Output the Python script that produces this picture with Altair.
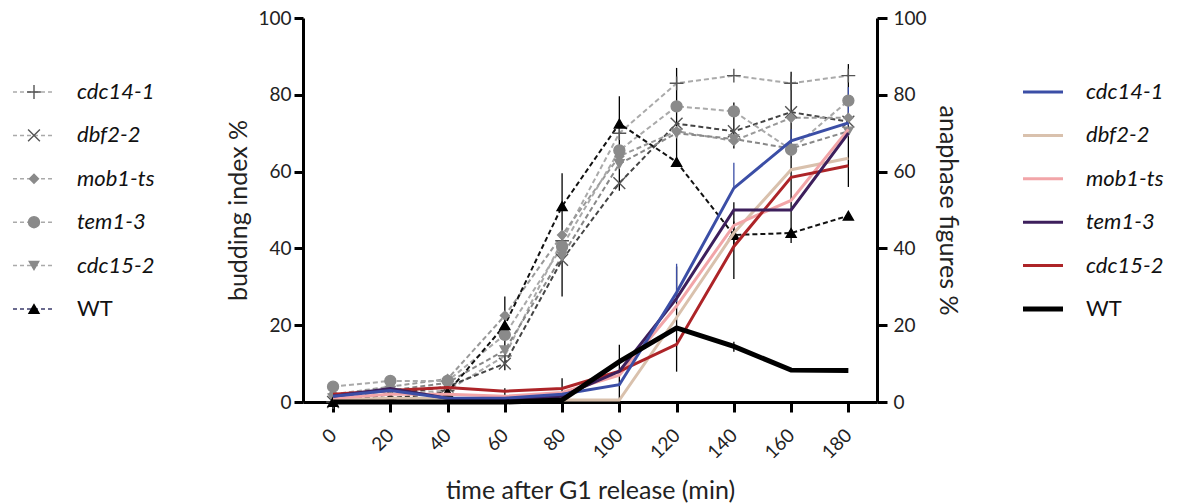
import altair as alt
import pandas as pd

# ---------------- data ----------------
times = [0, 20, 40, 60, 80, 100, 120, 140, 160, 180]
strains = ["cdc14-1", "dbf2-2", "mob1-ts", "tem1-3", "cdc15-2", "WT"]

# budding index % (dashed, left axis)
bud_cdc14 = [0, 2, 3, 12, 42, 70, 83, 85, 83, 85]
bud_dbf2 = [0, 2, 4, 10, 37, 57, 72.5, 70.5, 75.5, 73]
bud_mob1 = [2, 4, 6, 22.5, 43.5, 64, 70.5, 68, 74, 74]
bud_tem1 = [4, 5.5, 5.5, 17.5, 40.5, 65.5, 77, 75.7, 65.7, 78.5]
bud_cdc15 = [1, 3, 5, 13.5, 38, 62, 70, 68.5, 66, 70.5]
bud_wt = [0, 1, 2.5, 20, 51, 72.5, 62.5, 43.5, 44, 48.5]

# anaphase figures % (solid, right axis)
ana_cdc14 = [1.5, 3, 1, 1, 2, 4.5, 28.5, 55.7, 68, 72.7]
ana_dbf2 = [0.5, 1, 1, 0.5, 0.5, 0.5, 22, 44, 60.5, 63.5]
ana_mob1 = [1, 2, 2, 1.5, 2.5, 7, 25, 46, 52.5, 71]
ana_tem1 = [1.5, 3.5, 1, 0.5, 1.5, 8, 27, 50, 50, 70]
ana_cdc15 = [2, 3, 3.8, 2.8, 3.5, 8, 15, 40.5, 58.5, 61.5]
ana_wt = [0, 0, 0, 0, 0.5, 10.5, 19.3, 14.5, 8.3, 8.2]

# error bars
err_time = [20, 60, 80, 100, 120, 140, 160, 180, 140, 60, 80, 100, 120, 140, 140, 120, 140, 160, 180]
err_lo = [0.5, 8.3, 27.5, 55, 61.3, 66, 41.4, 56, 40.5, 0, 0, 0.5, 7.9, 32, 13.1, 26, 55.7, 65, 72]
err_hi = [5, 27.5, 59.6, 79.6, 87, 78, 86, 88, 47, 3.6, 6.2, 14.9, 35.3, 52, 15.7, 36, 62.3, 71, 82]
err_col = ["#000000"] * 15 + ["#3b4ea6"] * 4

# styles
bud_line_colors = ["#aaaaaa", "#444444", "#999999", "#aaaaaa", "#888888", "#111111"]
legend_dash_colors = ["#aaaaaa", "#aaaaaa", "#aaaaaa", "#aaaaaa", "#aaaaaa", "#3b3b6b"]
marker_shapes = ["M-1,0L1,0M0,-1L0,1", "M-1,-1L1,1M-1,1L1,-1", "diamond", "circle",
                 "triangle-down", "triangle-up"]
marker_fill = ["#555555", "#555555", "#8a8a8a", "#8a8a8a", "#8a8a8a", "#000000"]
marker_stroke = ["#555555", "#555555", "#8a8a8a", "#8a8a8a", "#8a8a8a", "#000000"]
marker_size = [190, 140, 80, 120, 90, 100]
ana_colors = ["#3b4ea6", "#d9c1ad", "#f2a5a8", "#3d1f5c", "#ad2428", "#000000"]
ana_widths = [3, 3, 3, 3, 3, 5]
ana_draw_order = ["dbf2-2", "mob1-ts", "cdc15-2", "tem1-3", "cdc14-1", "WT"]

bud_vals = [bud_cdc14, bud_dbf2, bud_mob1, bud_tem1, bud_cdc15, bud_wt]
ana_vals = [ana_cdc14, ana_dbf2, ana_mob1, ana_tem1, ana_cdc15, ana_wt]

FONT = "Lato"

# ---------------- tables ----------------
bud_rows = []
for i, s in enumerate(strains):
    for t, v in zip(times, bud_vals[i]):
        bud_rows.append(dict(time=t, value=v, strain=s, lcol=bud_line_colors[i],
                             shape=marker_shapes[i], fill=marker_fill[i],
                             stroke=marker_stroke[i], size=marker_size[i]))
bud_df = pd.DataFrame(bud_rows)

err_df = pd.DataFrame(dict(time=err_time, lo=err_lo, hi=err_hi, ecol=err_col))

leg_df = pd.DataFrame(dict(row=list(range(6)), strain=strains, dcol=legend_dash_colors,
                           shape=marker_shapes, fill=marker_fill, stroke=marker_stroke,
                           size=marker_size, acol=ana_colors, aw=ana_widths))

# ---------------- encodings ----------------
x_axis = alt.Axis(values=times, title="time after G1 release (min)", labelAngle=-45,
                  labelAlign="right", labelBaseline="middle", grid=False,
                  domainWidth=3, domainColor="#000000", tickWidth=3, tickSize=10,
                  tickColor="#000000", labelFontSize=19, labelColor="#222222",
                  labelPadding=20, titleFontSize=25, titleColor="#222222",
                  titlePadding=16, titleFontWeight="normal", labelFont=FONT, titleFont=FONT)
x_scale = alt.Scale(domain=[-10.5, 190], nice=False, zero=False)


def X():
    return alt.X("time:Q", scale=x_scale, axis=x_axis)


y_scale = alt.Scale(domain=[0, 100], nice=False)
left_axis = alt.Axis(values=[0, 20, 40, 60, 80, 100], title="budding index %", grid=False,
                     domainWidth=3, domainColor="#000000", tickWidth=3, tickSize=9,
                     tickColor="#000000", labelFontSize=19, labelColor="#222222",
                     labelPadding=3, titleFontSize=25, titleColor="#222222",
                     titlePadding=6, titleFontWeight="normal", labelFont=FONT, titleFont=FONT)
right_axis = alt.Axis(values=[0, 20, 40, 60, 80, 100], title="anaphase figures %", orient="right",
                      grid=False, domainWidth=3, domainColor="#000000", tickWidth=3, tickSize=10,
                      tickColor="#000000", labelFontSize=19, labelColor="#222222",
                      labelPadding=6, titleFontSize=25, titleColor="#222222",
                      titlePadding=8, titleFontWeight="normal", labelFont=FONT, titleFont=FONT)

layers = []

# budding dashed lines
layers.append(
    alt.Chart(bud_df).mark_line(strokeDash=[5, 3], strokeWidth=2).encode(
        x=X(), y=alt.Y("value:Q", scale=y_scale, axis=left_axis),
        color=alt.Color("lcol:N", scale=None), detail="strain:N")
)

# error bars
layers.append(
    alt.Chart(err_df).mark_rule(strokeWidth=1.3).encode(
        x=X(), y=alt.Y("lo:Q", scale=y_scale, axis=None), y2="hi:Q",
        color=alt.Color("ecol:N", scale=None))
)

# budding markers
layers.append(
    alt.Chart(bud_df).mark_point(filled=True, opacity=1, strokeWidth=1.4).encode(
        x=X(), y=alt.Y("value:Q", scale=y_scale, axis=None),
        shape=alt.Shape("shape:N", scale=None), fill=alt.Fill("fill:N", scale=None),
        stroke=alt.Stroke("stroke:N", scale=None), size=alt.Size("size:Q", scale=None))
)

# anaphase solid lines
for k, s in enumerate(ana_draw_order):
    i = strains.index(s)
    df = pd.DataFrame(dict(time=times, value=ana_vals[i]))
    layers.append(
        alt.Chart(df).mark_line(color=ana_colors[i], strokeWidth=ana_widths[i]).encode(
            x=X(), y=alt.Y("value:Q", scale=y_scale,
                           axis=right_axis if k == 0 else None))
    )

# ---------------- legends ----------------
row_scale = alt.Scale(domain=[0, 5], range=[74, 291], nice=False, zero=False)
Yrow = alt.Y("row:Q", scale=row_scale, axis=None)

layers.append(
    alt.Chart(leg_df).mark_rule(strokeDash=[4, 3], strokeWidth=1.5).encode(
        x=alt.value(-290), x2=alt.value(-248), y=Yrow, color=alt.Color("dcol:N", scale=None))
)
layers.append(
    alt.Chart(leg_df).mark_point(filled=True, opacity=1, strokeWidth=1.4).encode(
        x=alt.value(-269), y=Yrow,
        shape=alt.Shape("shape:N", scale=None), fill=alt.Fill("fill:N", scale=None),
        stroke=alt.Stroke("stroke:N", scale=None), size=alt.Size("size:Q", scale=None))
)
leg_it = leg_df[leg_df["strain"] != "WT"]
leg_wt = leg_df[leg_df["strain"] == "WT"]
layers.append(
    alt.Chart(leg_it).mark_text(align="left", baseline="middle", fontSize=22, font=FONT,
                                fontStyle="italic", color="#111111").encode(
        x=alt.value(-226), y=Yrow, text="strain:N")
)
layers.append(
    alt.Chart(leg_wt).mark_text(align="left", baseline="middle", fontSize=22, font=FONT,
                                color="#111111").encode(
        x=alt.value(-226), y=Yrow, text="strain:N")
)
# right legend
layers.append(
    alt.Chart(leg_df).mark_rule().encode(
        x=alt.value(720), x2=alt.value(760), y=Yrow,
        color=alt.Color("acol:N", scale=None), strokeWidth=alt.StrokeWidth("aw:Q", scale=None))
)
layers.append(
    alt.Chart(leg_it).mark_text(align="left", baseline="middle", fontSize=22, font=FONT,
                                fontStyle="italic", color="#111111").encode(
        x=alt.value(783), y=Yrow, text="strain:N")
)
layers.append(
    alt.Chart(leg_wt).mark_text(align="left", baseline="middle", fontSize=22, font=FONT,
                                color="#111111").encode(
        x=alt.value(783), y=Yrow, text="strain:N")
)

chart = alt.layer(*layers).resolve_scale(y="independent").properties(
    width=574, height=384,
    autosize=alt.AutoSizeParams(type="none"),
    padding={"left": 303, "top": 18, "right": 308, "bottom": 102},
    background="white",
).configure_view(stroke=None)

chart.save("out.html", embed_options={"renderer": "svg", "actions": False})
